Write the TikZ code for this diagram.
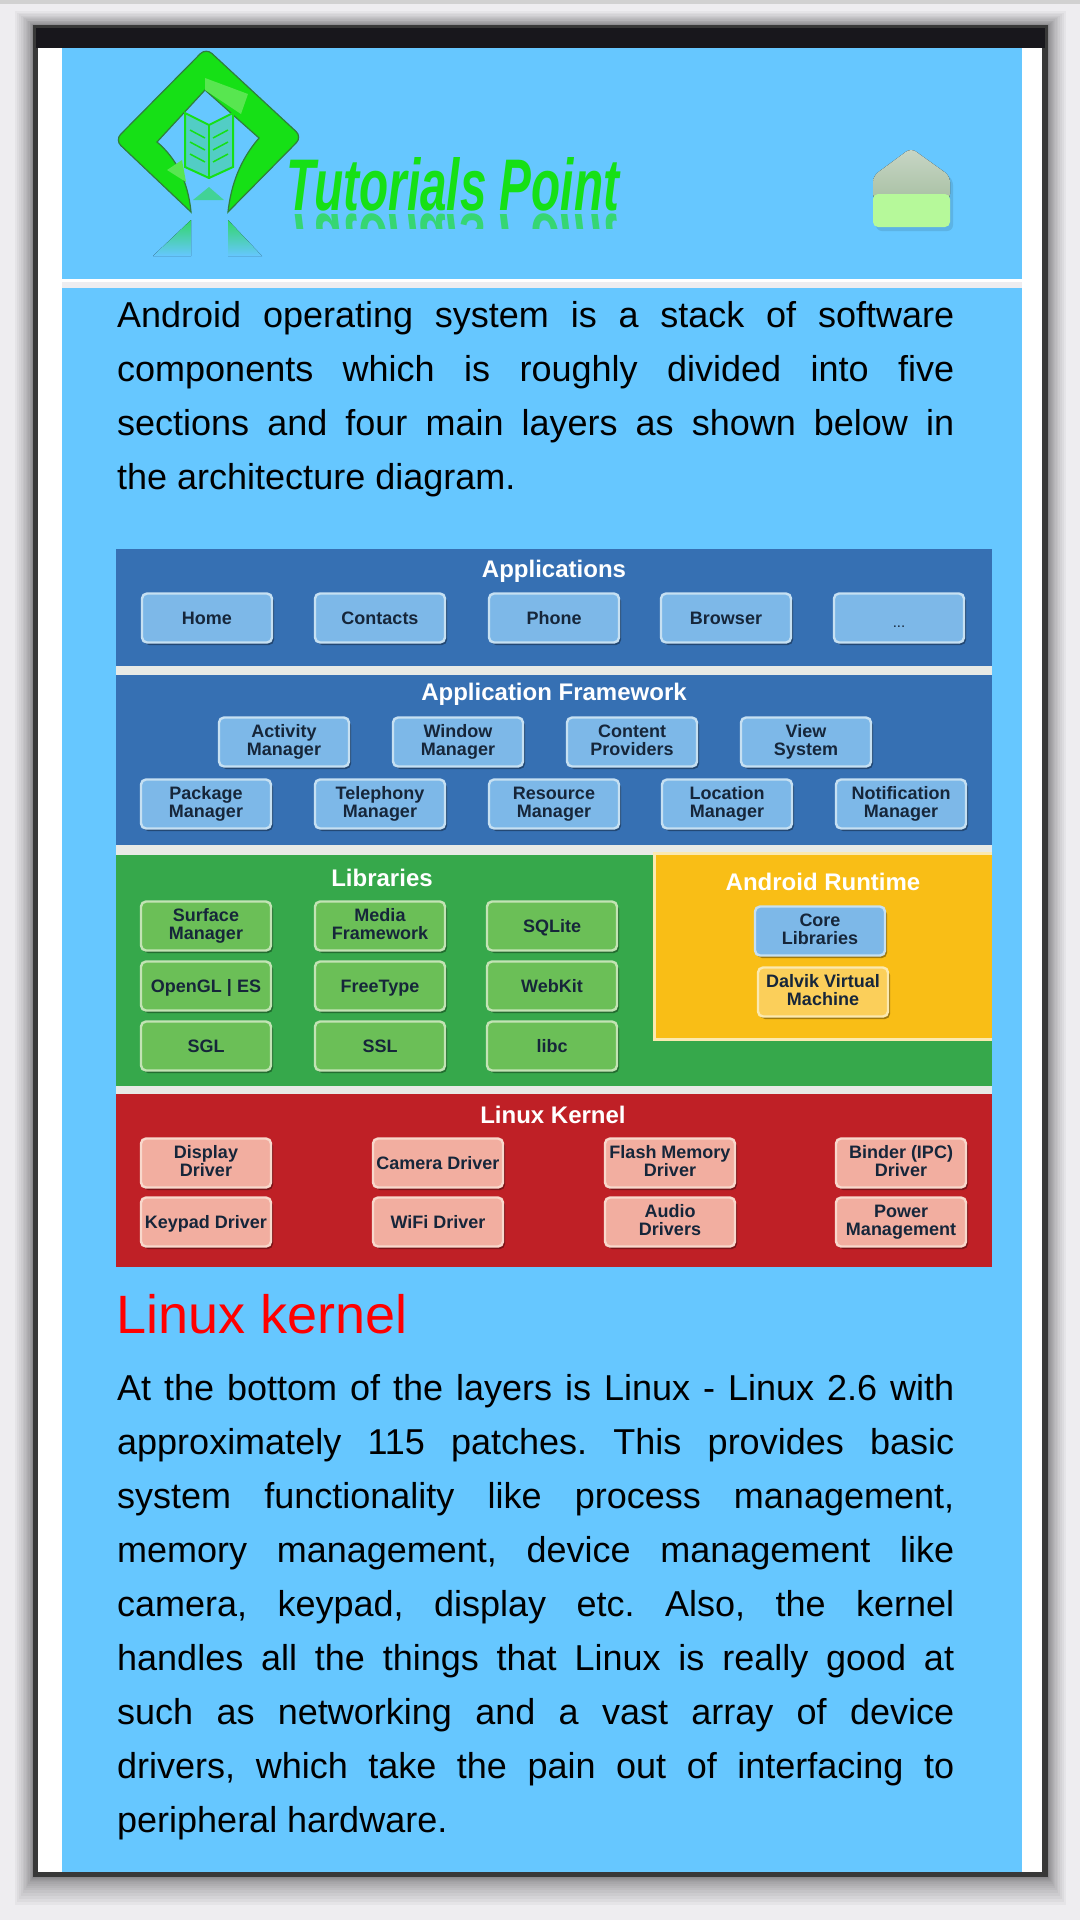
\documentclass[tikz,border=0pt]{standalone}
\usepackage{fontspec}
\setmainfont{Liberation Sans}
\usetikzlibrary{shadows}

\definecolor{pagegrey}{HTML}{EEEDF0}
\definecolor{barblack}{HTML}{18171C}
\definecolor{skyblue}{HTML}{66C7FF}
\definecolor{layerblue}{HTML}{3670B3}
\definecolor{boxblue}{HTML}{7DB8E8}
\definecolor{rimblue}{HTML}{C6E0F2}
\definecolor{layergreen}{HTML}{36A84B}
\definecolor{boxgreen}{HTML}{6BBF57}
\definecolor{rimgreen}{HTML}{C3E3B5}
\definecolor{layerred}{HTML}{BF2026}
\definecolor{boxred}{HTML}{F2AEA0}
\definecolor{rimred}{HTML}{F8D8CC}
\definecolor{layeryellow}{HTML}{F9BE16}
\definecolor{boxyellow}{HTML}{FBCF5A}
\definecolor{rimyellow}{HTML}{FBE9B0}
\definecolor{sepgrey}{HTML}{E8EAE6}
\definecolor{logogreen}{HTML}{16E016}
\definecolor{logoedge}{HTML}{2F7F3A}
\definecolor{logolight}{HTML}{58E650}
\definecolor{homegrey}{HTML}{C8D6C6}
\definecolor{homedark}{HTML}{A9C1A4}
\definecolor{homegreen}{HTML}{B6F99A}
\definecolor{darktext}{HTML}{16263A}

\newcommand{\topstrut}{\rule{0pt}{17pt}}
\newcommand{\lowstrut}{\rule[-4pt]{0pt}{4pt}}

\tikzset{
  comp/.style={rounded corners=5pt, line width=2.4pt, inner sep=0pt, align=center,
    minimum width=130pt, minimum height=49pt, text=darktext,
    font=\fontsize{18}{18}\selectfont\bfseries,
    execute at begin node=\topstrut, execute at end node=\lowstrut,
    drop shadow={shadow xshift=2pt, shadow yshift=-2.5pt, fill=black, opacity=.35}},
  appbox/.style={comp, fill=boxblue, draw=rimblue},
  libbox/.style={comp, fill=boxgreen, draw=rimgreen},
  kernelbox/.style={comp, fill=boxred, draw=rimred},
  dalvikbox/.style={comp, fill=boxyellow, draw=rimyellow},
  layertitle/.style={text=white, inner sep=0pt, font=\fontsize{24}{24}\selectfont\bfseries},
  bodytext/.style={anchor=north west, inner sep=0pt, text width=837pt, align=justify,
    font=\fontsize{36}{54}\selectfont\frenchspacing},
}

\begin{document}
\begin{tikzpicture}[x=1pt,y=-1pt]
    \useasboundingbox (0,0) rectangle (1080,1920);
    \fill[pagegrey] (0,0) rectangle (1080,1920);
    \fill[black!18] (0,0) rectangle (1080,4);

    % window shadow
    \foreach \r in {1,...,16}
      \fill[black, opacity=.035] (33-\r*\r/14,25-\r*\r/18) rectangle (1048+\r*\r/14,1877+\r*\r/9);

    \fill[black!78] (33,25) rectangle (1048,1877);
    \fill[white] (38,48) rectangle (1042,1872);
    \fill[barblack] (36,28) rectangle (1045,48);

    \fill[skyblue] (62,48) rectangle (1022,279);
    \fill[pagegrey] (62,282) rectangle (1022,288);
    \fill[skyblue] (62,288) rectangle (1022,1872);

    % logo
    \draw[fill=logogreen, draw=logoedge, line width=1.2pt]
      (191,212) [rounded corners=8pt] -- (115,140) -- (206,48) -- (302,137) [sharp corners]
      -- (228,212) .. controls (231,185) and (240,160) .. (259,138) -- (205,90) -- (157,142)
      .. controls (175,157) and (188,180) .. (191,212) -- cycle;
    \fill[logolight] (205,78) -- (248,94) -- (241,114) -- (205,90) -- cycle;
    \fill[logolight] (167,170) -- (182,160) -- (186,182) -- cycle;
    \draw[logogreen, fill=logogreen!25!skyblue, line width=2pt]
      (185,113) -- (209,125) -- (233,113) -- (233,167) -- (209,178) -- (185,167) -- cycle;
    \draw[logogreen, line width=1.5pt] (209,125) -- (209,178);
    \foreach \y in {130,142,154} {
      \draw[logogreen, line width=1.5pt] (190,\y) -- (205,\y+8);
      \draw[logogreen, line width=1.5pt] (228,\y) -- (213,\y+8);
    }
    \fill[logogreen!45!skyblue] (209,187) -- (224,200) -- (193,200) -- cycle;
    \fill[top color=logogreen!65!skyblue, bottom color=skyblue] (191,220) -- (191,256) -- (153,256) -- cycle;
    \fill[top color=logogreen!65!skyblue, bottom color=skyblue] (228,220) -- (228,256) -- (262,256) -- cycle;

    \node[anchor=base west, inner sep=0pt, text=logogreen] (logotext) at (286,210)
      {\resizebox{333pt}{53pt}{\bfseries\itshape Tutorials Point}};
    \begin{scope}
      \clip (280,213) rectangle (625,228);
      \node[anchor=base west, inner sep=0pt, text=logogreen!60!skyblue] (logomirror) at (286,214)
        {\resizebox{333pt}{-53pt}{\bfseries\itshape Tutorials Point}};
    \end{scope}

    % home button
    \fill[black!10!skyblue, rounded corners=6pt]
      (876,179) -- (912,152) -- (953,179) -- (953,231) -- (876,231) -- cycle;
    \fill[top color=homegrey, bottom color=homedark, rounded corners=6pt]
      (873,176) -- (911,148) -- (950,176) -- (950,200) -- (873,200) -- cycle;
    \fill[homegreen, rounded corners=5pt]
      (873,194) -- (950,194) -- (950,227) -- (873,227) -- cycle;

    % intro text
    \node[bodytext] (intro) at (117,301) {Android operating system is a stack of software\linebreak
      components which is roughly divided into five\linebreak
      sections and four main layers as shown below in\linebreak
      the architecture diagram.};

    % the layers
    \fill[layerblue] (116,549) rectangle (992,666);
    \fill[sepgrey] (116,666) rectangle (992,675);
    \fill[layerblue] (116,675) rectangle (992,845);
    \fill[sepgrey] (116,845) rectangle (992,855);
    \fill[layergreen] (116,855) rectangle (992,1086);
    \fill[sepgrey] (116,1086) rectangle (992,1094);
    \fill[layerred] (116,1094) rectangle (992,1267);
    \fill[rimyellow] (653,852) rectangle (992,1041);
    \fill[layeryellow] (656,855) rectangle (992,1038);

    \node[layertitle] (apptitle) at (554,571) {Applications};
    \node[appbox] (home) at (207,618) {Home};
    \node[appbox] (contacts) at (380,618) {Contacts};
    \node[appbox] (phone) at (554,618) {Phone};
    \node[appbox] (browser) at (726,618) {Browser};
    \node[appbox] (more) at (899,618) {\raisebox{-3pt}{\fontsize{15}{15}\selectfont\mdseries ...}};

    \node[layertitle] (frametitle) at (554,694) {Application Framework};
    \node[appbox] (activity) at (284,742) {Activity\\Manager};
    \node[appbox] (window) at (458,742) {Window\\Manager};
    \node[appbox] (content) at (632,742) {Content\\Providers};
    \node[appbox] (view) at (806,742) {View\\System};
    \node[appbox] (package) at (206,804) {Package\\Manager};
    \node[appbox] (telephony) at (380,804) {Telephony\\Manager};
    \node[appbox] (resource) at (554,804) {Resource\\Manager};
    \node[appbox] (location) at (727,804) {Location\\Manager};
    \node[appbox] (notification) at (901,804) {Notification\\Manager};

    \node[layertitle] (libtitle) at (382,878) {Libraries};
    \node[libbox] (surface) at (206,926) {Surface\\Manager};
    \node[libbox] (media) at (380,926) {Media\\Framework};
    \node[libbox] (sqlite) at (552,926) {SQLite};
    \node[libbox] (opengl) at (206,986) {OpenGL | ES};
    \node[libbox] (freetype) at (380,986) {FreeType};
    \node[libbox] (webkit) at (552,986) {WebKit};
    \node[libbox] (sgl) at (206,1046) {SGL};
    \node[libbox] (ssl) at (380,1046) {SSL};
    \node[libbox] (libc) at (552,1046) {libc};

    \node[layertitle] (runtitle) at (823,882) {Android Runtime};
    \node[appbox] (core) at (820,931) {Core\\Libraries};
    \node[dalvikbox] (dalvik) at (823,992) {Dalvik Virtual\\Machine};

    \node[layertitle] (kerneltitle) at (553,1115) {Linux Kernel};
    \node[kernelbox] (display) at (206,1163) {Display\\Driver};
    \node[kernelbox] (camera) at (438,1163) {Camera Driver};
    \node[kernelbox] (flash) at (670,1163) {Flash Memory\\Driver};
    \node[kernelbox] (binder) at (901,1163) {Binder (IPC)\\Driver};
    \node[kernelbox] (keypad) at (206,1222) {Keypad Driver};
    \node[kernelbox] (wifi) at (438,1222) {WiFi Driver};
    \node[kernelbox] (audio) at (670,1222) {Audio\\Drivers};
    \node[kernelbox] (power) at (901,1222) {Power\\Management};

    % lower text
    \node[anchor=base west, inner sep=0pt, text=red] (kernelhead) at (116,1333)
      {\fontsize{54}{54}\selectfont Linux kernel};
    \node[bodytext] (kerneltext) at (117,1374) {At the bottom of the layers is Linux - Linux 2.6 with\linebreak
      approximately 115 patches. This provides basic\linebreak
      system functionality like process management,\linebreak
      memory management, device management like\linebreak
      camera, keypad, display etc. Also, the kernel\linebreak
      handles all the things that Linux is really good at\linebreak
      such as networking and a vast array of device\linebreak
      drivers, which take the pain out of interfacing to\linebreak
      peripheral hardware.};

      % \draw[help lines] (0,0) grid (1080,1920);
\end{tikzpicture}
\end{document}
